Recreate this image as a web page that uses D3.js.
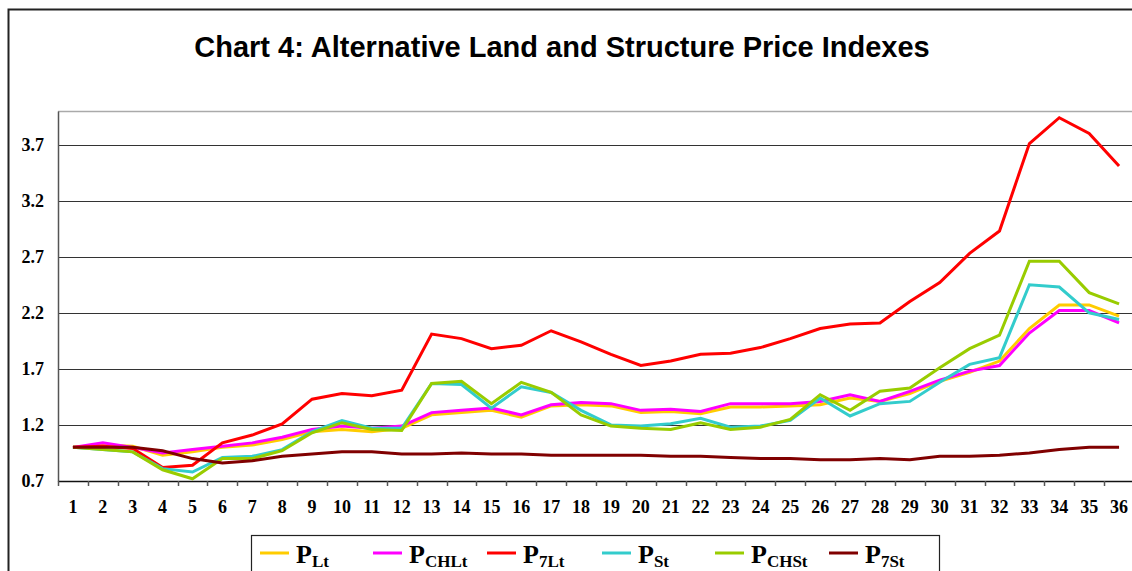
<!DOCTYPE html>
<html>
<head>
<meta charset="utf-8">
<script src="https://cdn.jsdelivr.net/npm/d3@7"></script>
<style>
  html, body { margin: 0; padding: 0; background: #fff; overflow: hidden; }
  svg { display: block; }
</style>
</head>
<body>
<svg id="chart" width="1132" height="571"></svg>
<script>
// periods 1..36
var periods = d3.range(1, 37);
var yTicks = [0.7, 1.2, 1.7, 2.2, 2.7, 3.2, 3.7];

var pLt   = [1.00,1.02,1.01,0.93,0.96,1.00,1.02,1.07,1.14,1.16,1.14,1.17,1.29,1.31,1.33,1.27,1.37,1.38,1.37,1.31,1.32,1.30,1.36,1.36,1.37,1.38,1.44,1.41,1.48,1.59,1.67,1.77,2.06,2.27,2.27,2.17];
var pCHLt = [1.00,1.04,1.00,0.95,0.98,1.01,1.04,1.09,1.16,1.19,1.17,1.19,1.31,1.33,1.35,1.29,1.38,1.40,1.39,1.33,1.34,1.32,1.39,1.39,1.39,1.41,1.47,1.41,1.50,1.60,1.68,1.73,2.02,2.22,2.22,2.11];
var p7Lt  = [1.00,1.01,0.99,0.82,0.84,1.04,1.11,1.21,1.43,1.48,1.46,1.51,2.01,1.97,1.88,1.91,2.04,1.94,1.83,1.73,1.77,1.83,1.84,1.89,1.97,2.06,2.10,2.11,2.30,2.47,2.73,2.93,3.71,3.94,3.80,3.51];
var pSt   = [1.00,0.98,0.96,0.81,0.78,0.91,0.92,0.98,1.14,1.24,1.17,1.17,1.57,1.56,1.35,1.54,1.49,1.33,1.20,1.19,1.21,1.26,1.18,1.19,1.24,1.44,1.28,1.39,1.41,1.58,1.74,1.80,2.45,2.43,2.20,2.14];
var pCHSt = [1.00,0.98,0.96,0.80,0.72,0.90,0.90,0.97,1.13,1.22,1.16,1.15,1.57,1.59,1.39,1.58,1.49,1.29,1.19,1.17,1.16,1.22,1.16,1.18,1.25,1.47,1.33,1.50,1.53,1.71,1.88,2.00,2.66,2.66,2.38,2.28];
var p7St  = [1.00,1.00,1.00,0.97,0.90,0.86,0.88,0.92,0.94,0.96,0.96,0.94,0.94,0.95,0.94,0.94,0.93,0.93,0.93,0.93,0.92,0.92,0.91,0.90,0.90,0.89,0.89,0.90,0.89,0.92,0.92,0.93,0.95,0.98,1.00,1.00];

var seriesNames = ["Lt", "CHLt", "7Lt", "St", "CHSt", "7St"];
var seriesColors = ["#FFCC00", "#FF00FF", "#FF0000", "#33CCCC", "#99CC00", "#800000"];
var seriesValues = [pLt, pCHLt, p7Lt, pSt, pCHSt, p7St];

var svg = d3.select("#chart");
var plotLeft = 58, plotRight = 1134, plotTop = 111, plotBottom = 481;
var serif = "'Liberation Serif', 'Times New Roman', serif";

// outer frame of the chart area
svg.append("path")
    .attr("d", "M8.5,571 L8.5,9.5 L1132,9.5")
    .attr("fill", "none")
    .attr("stroke", "#222")
    .attr("stroke-width", 2);

svg.append("text")
    .attr("x", 562)
    .attr("y", 57)
    .attr("text-anchor", "middle")
    .style("font-family", "'Liberation Sans', Arial, sans-serif")
    .style("font-weight", "bold")
    .style("font-size", "29px")
    .text("Chart 4: Alternative Land and Structure Price Indexes");

var x = d3.scaleBand()
    .domain(periods)
    .range([plotLeft, plotRight])
    .padding(0);

var y = d3.scaleLinear()
    .domain([0.7, 4.0])
    .range([plotBottom, plotTop]);

function cx(p) { return x(p) + x.bandwidth() / 2; }

// top edge of plot
svg.append("line")
    .attr("x1", plotLeft).attr("x2", plotRight)
    .attr("y1", plotTop + 0.5).attr("y2", plotTop + 0.5)
    .attr("stroke", "#aaa").attr("stroke-width", 1.5);

// gridlines
svg.append("g")
    .selectAll("line")
    .data(yTicks.slice(1))
    .enter().append("line")
    .attr("x1", plotLeft).attr("x2", plotRight)
    .attr("y1", function (d) { return Math.round(y(d)) + 0.5; })
    .attr("y2", function (d) { return Math.round(y(d)) + 0.5; })
    .attr("stroke", "#333")
    .attr("stroke-width", 1.2);

// y axis
var yAxis = svg.append("g")
    .attr("transform", "translate(" + plotLeft + ",0)")
    .call(d3.axisLeft(y).tickValues(yTicks).tickSize(0).tickPadding(14).tickFormat(d3.format(".1f")));
yAxis.select(".domain").attr("stroke", "#555").attr("stroke-width", 1.5);
yAxis.selectAll("text")
    .style("font-family", serif)
    .style("font-weight", "bold")
    .style("font-size", "18px")
    .attr("fill", "#000");

// x axis: labels centred in the bands, tick marks at the band edges
var xAxis = svg.append("g")
    .attr("transform", "translate(0," + plotBottom + ")")
    .call(d3.axisBottom(x).tickSize(0).tickPadding(19));
xAxis.select(".domain").attr("stroke", "#111").attr("stroke-width", 1.5);
xAxis.selectAll("text")
    .style("font-family", serif)
    .style("font-weight", "bold")
    .style("font-size", "18px")
    .attr("fill", "#000");

svg.append("g")
    .selectAll("line")
    .data(periods)
    .enter().append("line")
    .attr("x1", function (d) { return Math.round(x(d)) + 0.5; })
    .attr("x2", function (d) { return Math.round(x(d)) + 0.5; })
    .attr("y1", plotBottom)
    .attr("y2", plotBottom + 5)
    .attr("stroke", "#555")
    .attr("stroke-width", 1.5);

// lines
var line = d3.line()
    .x(function (d, i) { return cx(periods[i]); })
    .y(function (d) { return y(d); });

svg.append("g")
    .selectAll("path")
    .data(seriesValues)
    .enter().append("path")
    .attr("d", function (d) { return line(d); })
    .attr("fill", "none")
    .attr("stroke", function (d, i) { return seriesColors[i]; })
    .attr("stroke-width", 3)
    .attr("stroke-linejoin", "miter");

// legend
var legendX = [260, 373, 487, 602, 715, 829];

svg.append("rect")
    .attr("x", 251.5).attr("y", 535.5)
    .attr("width", 688).attr("height", 50)
    .attr("fill", "#fff")
    .attr("stroke", "#222")
    .attr("stroke-width", 1.2);

var item = svg.append("g")
    .selectAll("g")
    .data(seriesNames)
    .enter().append("g")
    .attr("transform", function (d, i) { return "translate(" + legendX[i] + ",553)"; });

item.append("line")
    .attr("x1", 0).attr("x2", 29)
    .attr("stroke", function (d, i) { return seriesColors[i]; })
    .attr("stroke-width", 3);

var lbl = item.append("text")
    .attr("x", 36)
    .attr("y", 10)
    .style("font-family", serif)
    .style("font-weight", "bold")
    .style("font-size", "26px")
    .attr("fill", "#000");
lbl.append("tspan").text("P");
lbl.append("tspan")
    .attr("dy", 4)
    .style("font-size", "17px")
    .text(function (d) { return d; });
</script>
</body>
</html>
